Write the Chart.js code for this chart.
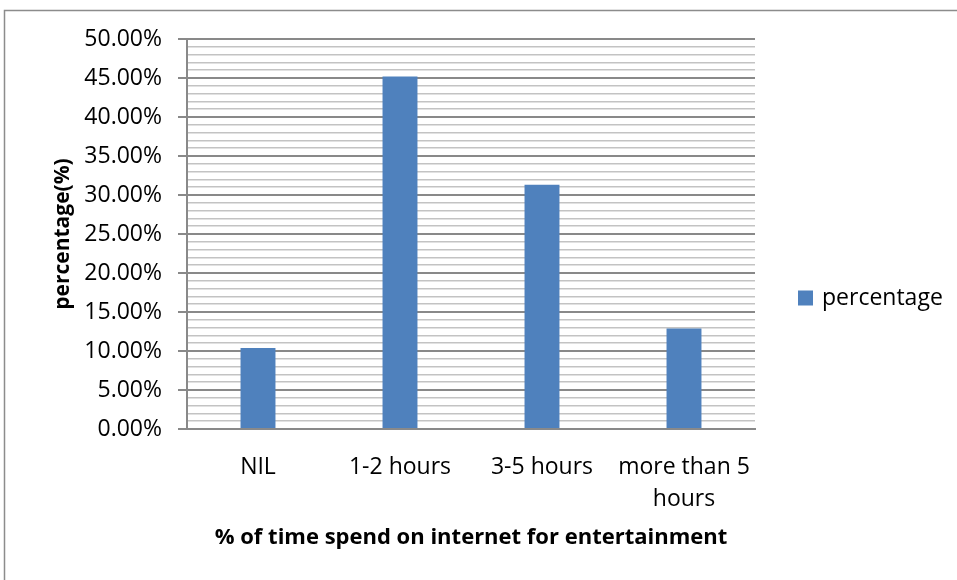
<!DOCTYPE html>
<html>
<head>
<meta charset="utf-8">
<title>% of time spend on internet for entertainment</title>
<script src="https://cdn.jsdelivr.net/npm/chart.js@4.4.1/dist/chart.umd.min.js"></script>
<style>
  html, body { margin: 0; padding: 0; background: #fff; }
  canvas { display: block; }
</style>
</head>
<body>
<canvas id="myChart" width="957" height="580"></canvas>
<script>
  // chart data
  const categories = ["NIL", "1-2 hours", "3-5 hours", ["more than 5", "hours"]];
  const percentage = [10.4, 45.2, 31.3, 12.9];
  const yMin = 0;
  const yMax = 50;
  const yMajorStep = 5;

  const BAR_COLOR = "#4f81bd";
  const MAJOR_GRID = "#898989";
  const MINOR_GRID = "#c3c3c3";

  // outer frame + legend on the right
  const framePlugin = {
    id: "frame",
    beforeDraw(chart) {
      const ctx = chart.ctx;
      ctx.save();
      ctx.fillStyle = "#fff";
      ctx.fillRect(0, 0, chart.width, chart.height);
      ctx.strokeStyle = "#8c8c8c";
      ctx.lineWidth = 1.5;
      ctx.strokeRect(4.5, 10.5, chart.width + 20, chart.height + 20);
      ctx.restore();
    },
    afterDraw(chart) {
      const ctx = chart.ctx;
      const ds = chart.data.datasets[0];
      ctx.save();
      ctx.fillStyle = ds.backgroundColor;
      ctx.fillRect(798, 290.5, 15, 15);
      ctx.fillStyle = "#000";
      ctx.font = "23px 'Open Sans'";
      ctx.textBaseline = "middle";
      ctx.fillText(ds.label, 822, 298);
      ctx.restore();
    },
  };

  const data = {
    labels: categories,
    datasets: [{
      label: "percentage",
      data: percentage,
      backgroundColor: BAR_COLOR,
      barPercentage: 1,
      categoryPercentage: 0.246,
    }]
  };

  const config = {
    type: "bar",
    data: data,
    options: {
      responsive: false,
      animation: false,
      devicePixelRatio: 1,
      layout: {
        padding: { left: 0, top: 39, right: 202, bottom: 0 },
      },
      plugins: {
        legend: { display: false },
        tooltip: { enabled: false },
      },
      scales: {
        x: {
          grid: { display: false },
          border: { display: true, color: MAJOR_GRID, width: 2 },
          ticks: {
            color: "#000",
            padding: 14,
            maxRotation: 0,
            autoSkip: false,
            font: { family: "Open Sans", size: 23, lineHeight: 1.4 },
          },
          title: {
            display: true,
            text: "% of time spend on internet for entertainment",
            color: "#000",
            font: { family: "Open Sans", size: 22, weight: "bold", lineHeight: 1.2 },
            padding: { top: 0, bottom: 29 },
          },
          afterFit(scale) {
            scale.height = 151;
          },
        },
        y: {
          min: yMin,
          max: yMax,
          grid: {
            color: (c) => (c.tick.value % yMajorStep === 0 ? MAJOR_GRID : MINOR_GRID),
            lineWidth: (c) => (c.tick.value % yMajorStep === 0 ? 2 : 1.5),
            tickColor: (c) => (c.tick.value % yMajorStep === 0 ? MAJOR_GRID : "rgba(0,0,0,0)"),
            tickLength: 9,
          },
          border: { color: MAJOR_GRID, width: 2 },
          ticks: {
            stepSize: 1,
            autoSkip: false,
            color: "#000",
            padding: 16,
            font: { family: "Open Sans", size: 23 },
            callback: (v) => (v % yMajorStep === 0 ? v.toFixed(2) + "%" : ""),
          },
          title: {
            display: true,
            text: "percentage(%)",
            color: "#000",
            font: { family: "Open Sans", size: 21, weight: "bold", lineHeight: 1.2 },
            padding: { top: 50.4, bottom: 0 },
          },
          afterFit(scale) {
            scale.width = 187;
          },
        },
      },
    },
    plugins: [framePlugin],
  };

  var myChart = new Chart(document.getElementById("myChart"), config);
</script>
</body>
</html>
